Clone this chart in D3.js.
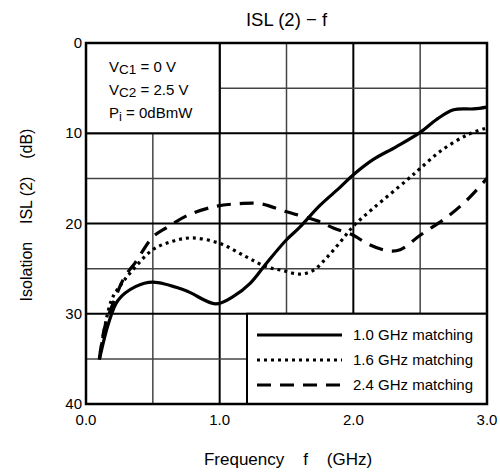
<!DOCTYPE html>
<html lang="en">
<head>
    <meta charset="UTF-8">
    <title>ISL (2) - f</title>
    <style>
        body { margin: 0; background: #fff; }
        svg { display: block; font-family: "Liberation Sans", Arial, sans-serif; }
    </style>
</head>
<body>
    <script src="https://d3js.org/d3.v7.min.js"></script>
    <script>
        // 1.0 GHz matching (solid)
        const freq1 = [0.1, 0.17, 0.24, 0.37, 0.5, 0.74, 0.97, 1.1, 1.23, 1.35, 1.5, 1.6, 1.75, 1.9, 2.0, 2.15, 2.32, 2.5, 2.62, 2.75, 2.9, 3.0]
        const isl1 = [35.1, 31.0, 28.5, 27.0, 26.5, 27.4, 28.9, 28.1, 26.6, 24.4, 21.8, 20.4, 18.0, 16.0, 14.6, 12.9, 11.5, 9.9, 8.5, 7.4, 7.3, 7.1]
        // 1.6 GHz matching (dotted)
        const freq2 = [0.1, 0.19, 0.27, 0.37, 0.5, 0.64, 0.79, 1.0, 1.2, 1.35, 1.47, 1.6, 1.7, 1.8, 1.9, 2.0, 2.15, 2.4, 2.5, 2.65, 2.85, 3.0]
        const isl2 = [35.0, 28.5, 26.6, 24.8, 22.9, 22.0, 21.6, 22.2, 23.7, 24.8, 25.2, 25.6, 25.2, 23.8, 22.1, 20.3, 18.3, 15.2, 13.9, 12.0, 10.2, 9.4]
        // 2.4 GHz matching (dashed)
        const freq3 = [0.1, 0.14, 0.22, 0.29, 0.37, 0.5, 0.61, 0.76, 0.97, 1.15, 1.3, 1.5, 1.73, 1.85, 2.0, 2.1, 2.25, 2.35, 2.5, 2.7, 2.85, 3.0]
        const isl3 = [35.0, 31.5, 28.2, 25.9, 24.3, 21.5, 20.4, 19.1, 18.1, 17.8, 17.8, 18.7, 19.7, 20.5, 21.3, 22.2, 23.0, 22.9, 21.3, 19.3, 17.4, 15.0]

        const seriesNames = ['1.0 GHz matching', '1.6 GHz matching', '2.4 GHz matching']
        const xTicks = [0, 1, 2, 3]
        const yTicks = [0, 10, 20, 30, 40]
        const xGrid = [0.5, 1, 1.5, 2, 2.5]
        const yGrid = [5, 10, 15, 20, 25, 30, 35]

        const width = 500
        const height = 473
        const pLeft = 86, pRight = 487, pTop = 43, pBottom = 404

        const x = d3.scaleLinear().domain([0, 3]).range([pLeft, pRight])
        const y = d3.scaleLinear().domain([0, 40]).range([pTop, pBottom])

        const svg = d3.select('body')
            .append('svg')
            .attr('width', width)
            .attr('height', height)

        // grid
        const isMajor = v => Math.abs(v - Math.round(v)) < 1e-6
        svg.append('g').selectAll('line')
            .data(xGrid)
            .join('line')
            .attr('x1', d => x(d)).attr('x2', d => x(d))
            .attr('y1', pTop).attr('y2', pBottom)
            .attr('stroke', d => isMajor(d) ? '#000' : '#444')
            .attr('stroke-width', d => isMajor(d) ? 2 : 1.5)
        svg.append('g').selectAll('line')
            .data(yGrid)
            .join('line')
            .attr('y1', d => y(d)).attr('y2', d => y(d))
            .attr('x1', pLeft).attr('x2', pRight)
            .attr('stroke', d => d % 10 === 0 ? '#000' : '#444')
            .attr('stroke-width', d => d % 10 === 0 ? 2 : 1.5)

        // conditions box (covers grid in the top-left cell)
        svg.append('rect')
            .attr('x', x(0)).attr('y', y(0))
            .attr('width', x(1) - x(0)).attr('height', y(10) - y(0))
            .attr('fill', '#fff').attr('stroke', '#000').attr('stroke-width', 2)

        const cond = svg.append('g').attr('font-size', 15).attr('fill', '#000')
        const c1 = cond.append('text').attr('x', 109).attr('y', 72)
        c1.append('tspan').text('V')
        c1.append('tspan').attr('font-size', 13.5).attr('dy', 2).text('C1')
        c1.append('tspan').attr('dy', -2).text(' = 0 V')
        const c2 = cond.append('text').attr('x', 109).attr('y', 95)
        c2.append('tspan').text('V')
        c2.append('tspan').attr('font-size', 13.5).attr('dy', 2).text('C2')
        c2.append('tspan').attr('dy', -2).text(' = 2.5 V')
        const c3 = cond.append('text').attr('x', 109).attr('y', 118)
        c3.append('tspan').text('P')
        c3.append('tspan').attr('font-size', 13).attr('dy', 3).text('i')
        c3.append('tspan').attr('dy', -3).text(' = 0dBmW')

        // curves
        const line = d3.line()
            .x(d => x(d[0]))
            .y(d => y(d[1]))
            .curve(d3.curveCatmullRom.alpha(0.5))

        const series = [
            { pts: d3.zip(freq1, isl1), dash: null },
            { pts: d3.zip(freq2, isl2), dash: '3,4' },
            { pts: d3.zip(freq3, isl3), dash: '14,9' }
        ]

        svg.append('g').selectAll('path')
            .data(series)
            .join('path')
            .attr('d', d => line(d.pts))
            .attr('fill', 'none')
            .attr('stroke', '#000')
            .attr('stroke-width', 3.2)
            .attr('stroke-dasharray', d => d.dash)

        // legend box
        const lg = svg.append('g')
        lg.append('rect')
            .attr('x', 247).attr('y', y(30))
            .attr('width', pRight - 247).attr('height', pBottom - y(30))
            .attr('fill', '#fff').attr('stroke', '#000').attr('stroke-width', 2)
        const rows = lg.selectAll('g.row')
            .data(series)
            .join('g')
            .attr('transform', (d, i) => `translate(0, ${335 + i * 25})`)
        rows.append('line')
            .attr('x1', 257).attr('x2', 342)
            .attr('stroke', '#000').attr('stroke-width', 3.2)
            .attr('stroke-dasharray', d => d.dash)
        rows.append('text')
            .attr('x', 353).attr('y', 5)
            .attr('font-size', 15)
            .text((d, i) => seriesNames[i])

        // frame
        svg.append('rect')
            .attr('x', pLeft).attr('y', pTop)
            .attr('width', pRight - pLeft).attr('height', pBottom - pTop)
            .attr('fill', 'none').attr('stroke', '#000').attr('stroke-width', 2.5)

        // tick labels
        svg.append('g').selectAll('text')
            .data(yTicks)
            .join('text')
            .attr('x', 82).attr('y', d => y(d) + 5)
            .attr('text-anchor', 'end')
            .attr('font-size', 15)
            .text(d => d)
        svg.append('g').selectAll('text')
            .data(xTicks)
            .join('text')
            .attr('x', d => x(d)).attr('y', 425)
            .attr('text-anchor', 'middle')
            .attr('font-size', 15)
            .text(d => d.toFixed(1))

        // titles
        svg.append('text')
            .attr('x', (pLeft + pRight) / 2).attr('y', 26)
            .attr('text-anchor', 'middle')
            .attr('font-size', 18.5)
            .text('ISL (2) \u2212 f')
        svg.append('text')
            .attr('x', 288).attr('y', 465)
            .attr('text-anchor', 'middle')
            .attr('font-size', 17)
            .style('white-space', 'pre')
            .text('Frequency    f    (GHz)')
        svg.append('text')
            .attr('transform', 'translate(32, 215) rotate(-90)')
            .attr('text-anchor', 'middle')
            .attr('font-size', 16)
            .style('white-space', 'pre')
            .text('Isolation    ISL (2)    (dB)')
    </script>
</body>
</html>
